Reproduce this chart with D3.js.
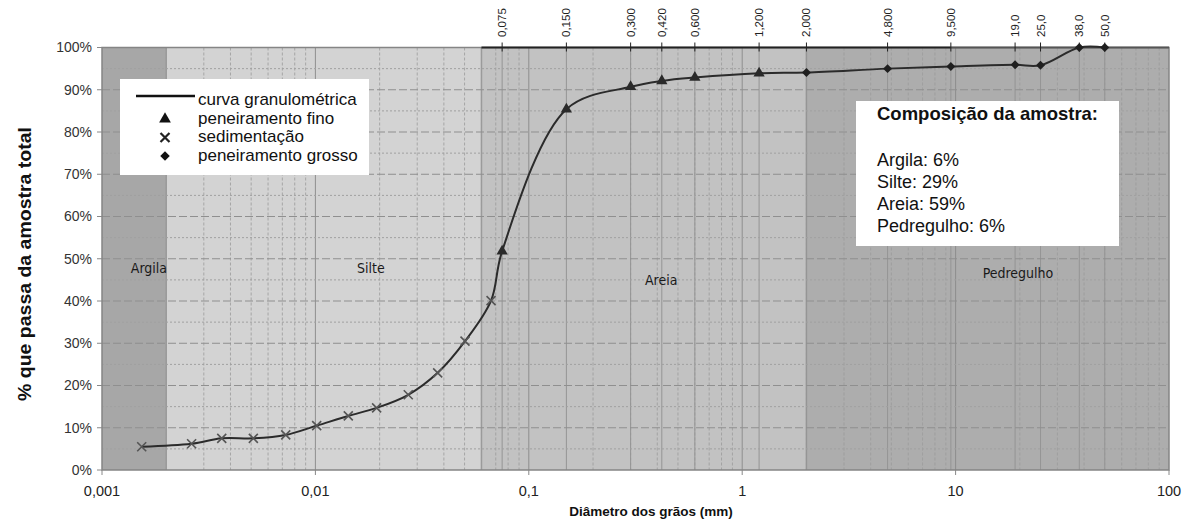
<!DOCTYPE html>
<html>
<head>
<meta charset="utf-8">
<script src="https://cdn.jsdelivr.net/npm/d3@7"></script>
<style>
  html, body { margin: 0; padding: 0; background: #fff; }
  svg { display: block; font-family: "Liberation Sans", Arial, sans-serif; }
</style>
</head>
<body>
<svg id="chart" width="1192" height="521"></svg>
<script>
// Sedimentation (hydrometer) readings: diameter in mm, % passing
const sedDiam = [0.001535, 0.00263, 0.00364, 0.00512, 0.00726, 0.01014, 0.01426, 0.01936, 0.02724, 0.03741, 0.05024, 0.06655];
const sedPass = [5.5, 6.2, 7.5, 7.5, 8.3, 10.5, 12.8, 14.7, 17.8, 23.0, 30.5, 40.1];

// Fine sieving
const fineDiam = [0.075, 0.150, 0.300, 0.420, 0.600, 1.200];
const finePass = [51.8, 85.4, 90.7, 92.1, 92.9, 93.9];

// Coarse sieving
const coarseDiam = [2.0, 4.8, 9.5, 19.0, 25.0, 38.0, 50.0];
const coarsePass = [94.1, 95.0, 95.5, 95.9, 95.8, 100, 100];

// Sieve openings shown on the top axis
const sieveSizes = [0.075, 0.150, 0.300, 0.420, 0.600, 1.200, 2.000, 4.800, 9.500, 19.0, 25.0, 38.0, 50.0];
const sieveLabels = ["0,075", "0,150", "0,300", "0,420", "0,600", "1,200", "2,000", "4,800", "9,500", "19,0", "25,0", "38,0", "50,0"];

// Soil fraction bands (mm)
const bandNames = ["Argila", "Silte", "Areia", "Pedregulho"];
const bandStart = [0.001, 0.002, 0.06, 2.0];
const bandEnd = [0.002, 0.06, 2.0, 100];
const bandLabelX = [0.00166, 0.0182, 0.417, 19.6];
const bandLabelY = [47.8, 47.8, 45.0, 46.6];

// Axis ticks
const xTicks = [0.001, 0.01, 0.1, 1, 10, 100];
const xTickLabels = ["0,001", "0,01", "0,1", "1", "10", "100"];
const yTicks = [0, 10, 20, 30, 40, 50, 60, 70, 80, 90, 100];

// Sample composition
const compTitle = "Composição da amostra:";
const compLines = ["Argila: 6%", "Silte: 29%", "Areia: 59%", "Pedregulho: 6%"];

// Legend entries
const legendLabels = ["curva granulométrica", "peneiramento fino", "sedimentação", "peneiramento grosso"];

const svg = d3.select("#chart");
const pLeft = 102, pRight = 1169, pTop = 47.5, pBottom = 470;

const x = d3.scaleLog().domain([0.001, 100]).range([pLeft, pRight]);
const y = d3.scaleLinear().domain([0, 100]).range([pBottom, pTop]);

const bandFill = ["#a7a7a7", "#d3d3d3", "#c2c2c2", "#adadad"];

// Background bands
svg.append("g").selectAll("rect").data(bandNames).join("rect")
  .attr("x", (d, i) => x(bandStart[i]))
  .attr("y", pTop)
  .attr("width", (d, i) => x(bandEnd[i]) - x(bandStart[i]))
  .attr("height", pBottom - pTop)
  .attr("fill", (d, i) => bandFill[i]);

// Band boundary lines
svg.append("g").selectAll("line").data(bandStart.slice(1)).join("line")
  .attr("x1", d => x(d)).attr("x2", d => x(d))
  .attr("y1", pTop).attr("y2", pBottom)
  .attr("stroke", "#9a9a9a").attr("stroke-width", 1.5);

// Minor vertical grid (2..9 within each decade)
const minor = [];
for (let e = -3; e < 2; e++) for (let m = 2; m <= 9; m++) minor.push(m * Math.pow(10, e));
const grid = svg.append("g");
grid.selectAll("line.minor").data(minor).join("line").attr("class", "minor")
  .attr("x1", d => x(d)).attr("x2", d => x(d))
  .attr("y1", pTop).attr("y2", pBottom)
  .attr("stroke", "#9c9c9c").attr("stroke-width", 1)
  .attr("stroke-dasharray", "3,2").attr("opacity", 0.8);

// Decade lines
grid.selectAll("line.major").data(xTicks.slice(1, -1)).join("line").attr("class", "major")
  .attr("x1", d => x(d)).attr("x2", d => x(d))
  .attr("y1", pTop).attr("y2", pBottom)
  .attr("stroke", "#8e8e8e").attr("stroke-width", 1);

// Sieve opening lines
grid.selectAll("line.sieve").data(sieveSizes).join("line").attr("class", "sieve")
  .attr("x1", d => x(d)).attr("x2", d => x(d))
  .attr("y1", pTop).attr("y2", pBottom)
  .attr("stroke", "#959595").attr("stroke-width", 1);

// Horizontal grid every 5%
const hLines = d3.range(5, 100, 5);
grid.selectAll("line.h").data(hLines).join("line").attr("class", "h")
  .attr("x1", pLeft).attr("x2", pRight)
  .attr("y1", d => y(d)).attr("y2", d => y(d))
  .attr("stroke", d => d % 10 === 0 ? "#8f8f8f" : "#a0a0a0")
  .attr("stroke-width", 1)
  .attr("stroke-dasharray", d => d % 10 === 0 ? "8,3" : "2,2");

// Plot frame
svg.append("rect")
  .attr("x", pLeft).attr("y", pTop)
  .attr("width", pRight - pLeft).attr("height", pBottom - pTop)
  .attr("fill", "none").attr("stroke", "#858585").attr("stroke-width", 1.5);

// Band labels
svg.append("g").selectAll("text").data(bandNames).join("text")
  .attr("x", (d, i) => x(bandLabelX[i]))
  .attr("y", (d, i) => y(bandLabelY[i]))
  .attr("dy", "0.35em")
  .attr("text-anchor", "middle")
  .attr("font-family", "'DejaVu Sans Condensed', 'DejaVu Sans', sans-serif")
  .attr("font-size", 14).attr("fill", "#1a1a1a")
  .text(d => d);

// Top sieve axis
const topAx = svg.append("g");
topAx.append("line")
  .attr("x1", x(0.06)).attr("x2", x(9.5))
  .attr("y1", pTop).attr("y2", pTop)
  .attr("stroke", "#222").attr("stroke-width", 2);
topAx.append("line")
  .attr("x1", x(9.5)).attr("x2", pRight)
  .attr("y1", pTop).attr("y2", pTop)
  .attr("stroke", "#555").attr("stroke-width", 2);
topAx.selectAll("line.tk").data(sieveSizes).join("line").attr("class", "tk")
  .attr("x1", d => x(d)).attr("x2", d => x(d))
  .attr("y1", pTop - 5).attr("y2", pTop + 4)
  .attr("stroke", "#222").attr("stroke-width", 1);
topAx.selectAll("text").data(sieveLabels).join("text")
  .attr("transform", (d, i) => `translate(${x(sieveSizes[i])},37) rotate(-90)`)
  .attr("dy", "0.35em")
  .attr("font-size", 11.5).attr("fill", "#222")
  .text(d => d);

// Bottom axis
const bx = svg.append("g");
bx.selectAll("line").data(xTicks).join("line")
  .attr("x1", d => x(d)).attr("x2", d => x(d))
  .attr("y1", pBottom).attr("y2", pBottom + 5)
  .attr("stroke", "#888");
bx.selectAll("text").data(xTickLabels).join("text")
  .attr("x", (d, i) => x(xTicks[i]))
  .attr("y", 496)
  .attr("text-anchor", "middle")
  .attr("font-size", 14.5).attr("fill", "#222")
  .text(d => d);
svg.append("text")
  .attr("x", 651).attr("y", 516)
  .attr("text-anchor", "middle")
  .attr("font-size", 13.5).attr("font-weight", "bold").attr("fill", "#111")
  .text("Diâmetro dos grãos (mm)");

// Left axis
const ly = svg.append("g");
ly.selectAll("line").data(yTicks).join("line")
  .attr("x1", pLeft - 5).attr("x2", pLeft)
  .attr("y1", d => y(d)).attr("y2", d => y(d))
  .attr("stroke", "#888");
ly.selectAll("text").data(yTicks).join("text")
  .attr("x", 92).attr("y", d => y(d))
  .attr("dy", "0.35em")
  .attr("text-anchor", "end")
  .attr("font-size", 14).attr("fill", "#333")
  .text(d => d + "%");
svg.append("text")
  .attr("transform", `translate(31,264) rotate(-90)`)
  .attr("text-anchor", "middle")
  .attr("font-size", 18).attr("font-weight", "bold").attr("fill", "#111")
  .attr("textLength", 274).attr("lengthAdjust", "spacingAndGlyphs")
  .text("% que passa da amostra total");

// Gradation curve through all readings
const pts = [];
sedDiam.forEach((d, i) => pts.push([d, sedPass[i]]));
fineDiam.forEach((d, i) => pts.push([d, finePass[i]]));
coarseDiam.forEach((d, i) => pts.push([d, coarsePass[i]]));
pts.sort((a, b) => a[0] - b[0]);
const line = d3.line().x(d => x(d[0])).y(d => y(d[1])).curve(d3.curveCatmullRom.alpha(0.5));
svg.append("path").datum(pts)
  .attr("d", line)
  .attr("fill", "none").attr("stroke", "#2b2b2b").attr("stroke-width", 2);

// Markers
const triSym = d3.symbol().type(d3.symbolTriangle).size(55);
const diaSym = d3.symbol().type(d3.symbolSquare).size(40);
function cross(g, cx, cy, r, col, w) {
  return g.append("path")
    .attr("d", `M${cx - r},${cy - r}L${cx + r},${cy + r}M${cx - r},${cy + r}L${cx + r},${cy - r}`)
    .attr("stroke", col).attr("stroke-width", w).attr("fill", "none");
}
const mk = svg.append("g");
sedDiam.forEach((d, i) => cross(mk, x(d), y(sedPass[i]), 4.5, "#555", 1.6));
mk.selectAll("path.tri").data(fineDiam).join("path").attr("class", "tri")
  .attr("transform", (d, i) => `translate(${x(d)},${y(finePass[i])})`)
  .attr("d", triSym).attr("fill", "#2a2a2a");
mk.selectAll("path.dia").data(coarseDiam).join("path").attr("class", "dia")
  .attr("transform", (d, i) => `translate(${x(d)},${y(coarsePass[i])}) rotate(45)`)
  .attr("d", diaSym).attr("fill", "#1f1f1f");

// Legend
const lg = svg.append("g");
lg.append("rect").attr("x", 120).attr("y", 79).attr("width", 249).attr("height", 96).attr("fill", "#fff");
const rowY = [99, 118, 136.5, 155];
lg.append("line").attr("x1", 136).attr("x2", 195).attr("y1", 96).attr("y2", 96)
  .attr("stroke", "#111").attr("stroke-width", 2.5);
lg.append("path").attr("transform", `translate(165,${rowY[1] + 1})`)
  .attr("d", d3.symbol().type(d3.symbolTriangle).size(60)).attr("fill", "#111");
cross(lg, 165, rowY[2] + 1, 4.5, "#222", 2.2);
lg.append("path").attr("transform", `translate(165,${rowY[3] + 1}) rotate(45)`)
  .attr("d", d3.symbol().type(d3.symbolSquare).size(45)).attr("fill", "#111");
lg.selectAll("text").data(legendLabels).join("text")
  .attr("x", 198).attr("y", (d, i) => rowY[i])
  .attr("dy", "0.35em")
  .attr("font-size", 17).attr("fill", "#111")
  .text(d => d);

// Composition box
const cb = svg.append("g");
cb.append("rect").attr("x", 856).attr("y", 101).attr("width", 263).attr("height", 145).attr("fill", "#fff");
cb.append("text").attr("x", 877).attr("y", 113.5).attr("dy", "0.35em")
  .attr("font-size", 18.5).attr("font-weight", "bold").attr("fill", "#111")
  .text(compTitle);
cb.selectAll("text.c").data(compLines).join("text").attr("class", "c")
  .attr("x", 877).attr("y", (d, i) => 159.5 + i * 22.1).attr("dy", "0.35em")
  .attr("font-size", 18).attr("fill", "#111")
  .text(d => d);
</script>
</body>
</html>
